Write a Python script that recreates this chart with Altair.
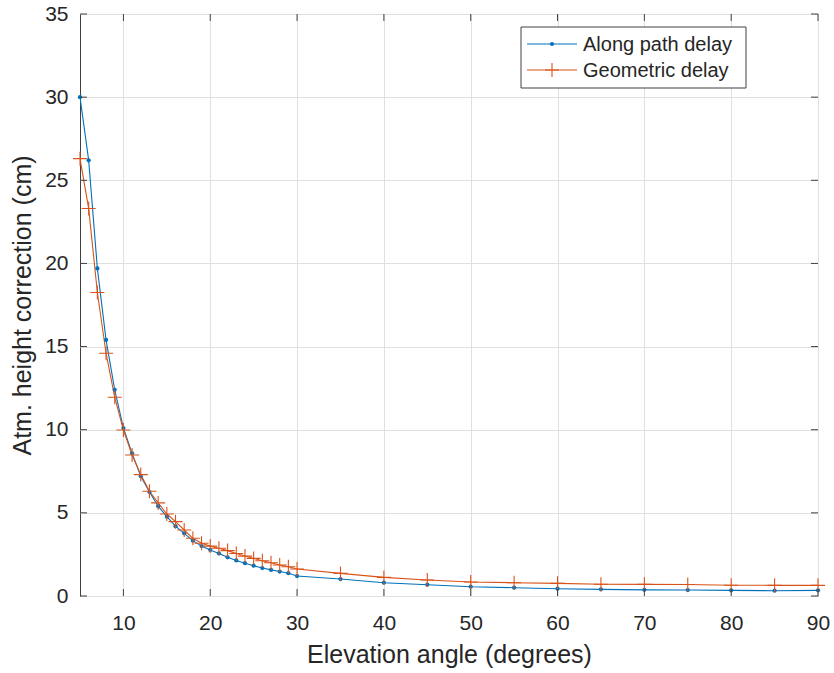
import altair as alt
import pandas as pd

# Elevation angles (degrees) and the two atmospheric height corrections (cm)
elevation = list(range(5, 31)) + [35, 40, 45, 50, 55, 60, 65, 70, 75, 80, 85, 90]

along_path = [30.0, 26.2, 19.7, 15.4, 12.4, 10.1, 8.58, 7.2, 6.25, 5.4,
              4.77, 4.2, 3.77, 3.33, 3.0, 2.77, 2.56, 2.33, 2.14, 1.97,
              1.82, 1.68, 1.57, 1.47, 1.37, 1.2,
              1.02, 0.8, 0.68, 0.56, 0.5, 0.44, 0.4, 0.37, 0.36, 0.34, 0.32, 0.34]

geometric = [26.3, 23.3, 18.25, 14.6, 11.95, 9.98, 8.48, 7.3, 6.3, 5.6,
             4.93, 4.47, 3.97, 3.47, 3.17, 3.0, 2.87, 2.73, 2.56, 2.4,
             2.26, 2.12, 2.0, 1.86, 1.76, 1.62,
             1.36, 1.12, 0.96, 0.84, 0.8, 0.76, 0.71, 0.7, 0.69, 0.65, 0.64, 0.64]

x_ticks = [10, 20, 30, 40, 50, 60, 70, 80, 90]
y_ticks = [0, 5, 10, 15, 20, 25, 30, 35]

series_names = ["Along path delay", "Geometric delay"]
series_colors = ["#0072BD", "#D95319"]

W, H = 738, 582
FONT = "Liberation Sans"
TXT = "#262626"

df = pd.DataFrame({
    "elev": elevation * 2,
    "value": along_path + geometric,
    "series": [series_names[0]] * len(elevation) + [series_names[1]] * len(elevation),
})

x_scale = alt.Scale(domain=[5, 90], nice=False, zero=False)
y_scale = alt.Scale(domain=[0, 35], nice=False)

x_enc = alt.X("elev:Q", scale=x_scale,
              axis=alt.Axis(values=x_ticks, title="Elevation angle (degrees)",
                            grid=True, ticks=False, domain=False, labelFlush=False,
                            labelPadding=16, titlePadding=9, titleLimit=2000))
y_enc = alt.Y("value:Q", scale=y_scale,
              axis=alt.Axis(values=y_ticks, title="Atm. height correction (cm)",
                            grid=True, ticks=False, domain=False, labelFlush=False,
                            labelPadding=12, titlePadding=9, titleLimit=2000))
color_enc = alt.Color("series:N", scale=alt.Scale(domain=series_names, range=series_colors),
                      legend=None)

base = alt.Chart(df)

lines = base.mark_line(strokeWidth=1.1, clip=True).encode(x=x_enc, y=y_enc, color=color_enc)

dots = base.transform_filter(alt.datum.series == series_names[0]).mark_point(
    filled=True, shape="circle", size=18, opacity=1).encode(
    x=alt.X("elev:Q", scale=x_scale), y=alt.Y("value:Q", scale=y_scale),
    color=color_enc)

plus_path = "M-1,0L1,0M0,-1L0,1"
pluses = base.transform_filter(alt.datum.series == series_names[1]).mark_point(
    shape=plus_path, size=196, filled=False, strokeWidth=1.1, opacity=1).encode(
    x=alt.X("elev:Q", scale=x_scale), y=alt.Y("value:Q", scale=y_scale),
    color=color_enc)

# Inward-pointing ticks on all four sides of the box
xt = pd.DataFrame({"t": x_ticks})
yt = pd.DataFrame({"t": y_ticks})
tick_len = 7
tick_color = "#404040"
xt_bottom = alt.Chart(xt).mark_rule(color=tick_color, strokeWidth=1).encode(
    x=alt.X("t:Q", scale=x_scale), y=alt.value(H), y2=alt.value(H - tick_len))
xt_top = alt.Chart(xt).mark_rule(color=tick_color, strokeWidth=1).encode(
    x=alt.X("t:Q", scale=x_scale), y=alt.value(0), y2=alt.value(tick_len))
yt_left = alt.Chart(yt).mark_rule(color=tick_color, strokeWidth=1).encode(
    y=alt.Y("t:Q", scale=y_scale), x=alt.value(0), x2=alt.value(tick_len))
yt_right = alt.Chart(yt).mark_rule(color=tick_color, strokeWidth=1).encode(
    y=alt.Y("t:Q", scale=y_scale), x=alt.value(W), x2=alt.value(W - tick_len))

# Legend box in the upper right
LX0, LX1, LY0, LY1 = 441, 666, 13, 74
row_y = [30, 56]
leg_box = alt.Chart(pd.DataFrame({"a": [0]})).mark_rect(
    fill="white", stroke=tick_color, strokeWidth=1).encode(
    x=alt.value(LX0), x2=alt.value(LX1), y=alt.value(LY0), y2=alt.value(LY1))

leg_layers = []
for i, name in enumerate(series_names):
    d = alt.Chart(pd.DataFrame({"series": [name]}))
    leg_layers.append(d.mark_rule(strokeWidth=1.1, color=series_colors[i]).encode(
        x=alt.value(447), x2=alt.value(497), y=alt.value(row_y[i])))
    if i == 0:
        leg_layers.append(d.mark_point(filled=True, shape="circle", size=18, opacity=1,
                                       color=series_colors[i]).encode(
            x=alt.value(472), y=alt.value(row_y[i])))
    else:
        leg_layers.append(d.mark_point(shape=plus_path, size=196, filled=False, opacity=1,
                                       strokeWidth=1.1, color=series_colors[i]).encode(
            x=alt.value(472), y=alt.value(row_y[i])))
    leg_layers.append(d.mark_text(align="left", baseline="middle", font=FONT,
                                  fontSize=20, color=TXT).encode(
        x=alt.value(503), y=alt.value(row_y[i] + 1), text="series:N"))

chart = alt.layer(
    lines, dots, pluses, xt_bottom, xt_top, yt_left, yt_right, leg_box, *leg_layers
).properties(
    width=W, height=H,
    autosize=alt.AutoSizeParams(type="none"),
    padding={"left": 80, "top": 14, "right": 16, "bottom": 77},
    background="white",
).configure_view(
    stroke=tick_color, strokeWidth=1
).configure_axis(
    labelFont=FONT, titleFont=FONT, labelFontSize=21, titleFontSize=25,
    labelColor=TXT, titleColor=TXT, titleFontWeight="normal",
    gridColor="#e0e0e0", gridWidth=1,
)

chart.save("out.html", embed_options={"renderer": "svg", "actions": False})
